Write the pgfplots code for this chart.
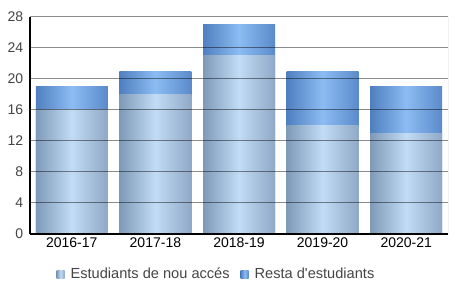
\documentclass[border=0pt]{standalone}
\usepackage{pgfplots}
\pgfplotsset{compat=1.18}
\usepackage{fontspec}
\setmainfont{Liberation Sans}
\definecolor{aL}{HTML}{7F9AB8}
\definecolor{aM}{HTML}{C2DCF6}
\definecolor{aR}{HTML}{8EA8C6}
\definecolor{bL}{HTML}{4F7FBF}
\definecolor{bM}{HTML}{8CBCF2}
\definecolor{bR}{HTML}{5B8ACB}
\definecolor{txt}{HTML}{444444}
\begin{document}
\fontsize{14}{16}\selectfont
\begin{tikzpicture}
\path[use as bounding box] (0,0) rectangle (456pt,305pt);
\begin{axis}[
  at={(30pt,71pt)}, anchor=south west,
  scale only axis, width=418pt, height=217pt,
  xmin=-0.5, xmax=4.5, ymin=0, ymax=28,
  ybar, bar width=72pt, bar shift=0pt,
  xtick={0,1,2,3,4},
  xticklabels={2016-17,2017-18,2018-19,2019-20,2020-21},
  ytick={0,4,8,12,16,20,24,28},
  axis x line*=bottom, axis y line*=left,
  axis line style={black, line width=1.2pt, -},
  major tick length=0pt,
  ymajorgrids, grid style={black, opacity=0.45, line width=1pt},
  axis on top,
  tick label style={font=\fontsize{14}{16}\selectfont},
  yticklabel style={text=txt, xshift=-2pt},
  xticklabel style={text=black, yshift=1pt},
  /pgf/number format/assume math mode=true,
  legend columns=2,
  legend style={draw=none, fill=none, at={(rel axis cs:0.056,-0.186)}, anchor=west,
    font=\fontsize{14.6}{16}\selectfont, text=txt,
    /tikz/every even column/.append style={column sep=9pt}},
  legend image code/.code={\path[#1] (0pt,-4pt) rectangle (8pt,4pt);},
  tops/.style={draw=none, left color=bL, right color=bR, middle color=bM, forget plot},
  bots/.style={draw=none, left color=aL, right color=aR, middle color=aM, forget plot},
]
% totals (top segment colour), drawn first
\addplot[tops] coordinates {(0,19)};
\addplot[tops] coordinates {(1,21)};
\addplot[tops] coordinates {(2,27)};
\addplot[tops] coordinates {(3,21)};
\addplot[tops] coordinates {(4,19)};
% Estudiants de nou acces
\addplot[bots] coordinates {(0,16)};
\addplot[bots] coordinates {(1,18)};
\addplot[bots] coordinates {(2,23)};
\addplot[bots] coordinates {(3,14)};
\addplot[bots] coordinates {(4,13)};
\addlegendimage{draw=none, left color=aL, right color=aR, middle color=aM}
\addlegendentry{\hspace{4pt}Estudiants de nou accés}
\addlegendimage{draw=none, left color=bL, right color=bR, middle color=bM}
\addlegendentry{\hspace{4pt}Resta d\textquotesingle estudiants}
\draw[black, opacity=0.45, line width=1pt] (rel axis cs:1,0) -- (rel axis cs:1,1);
\end{axis}
\end{tikzpicture}
\end{document}
